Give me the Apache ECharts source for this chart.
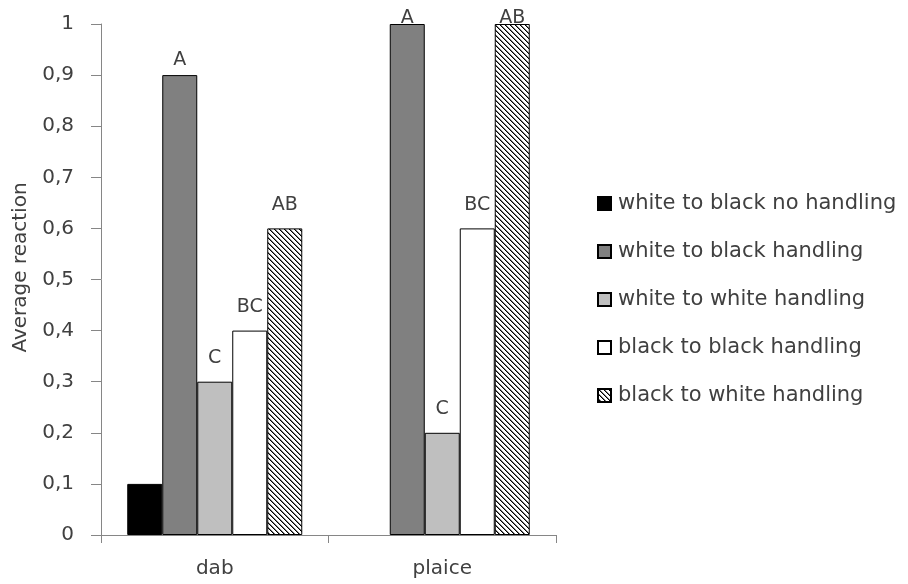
<!DOCTYPE html>
<html>
<head>
<meta charset="utf-8">
<script src="https://cdn.jsdelivr.net/npm/echarts@6/dist/echarts.min.js"></script>
<style>
  html, body { margin: 0; padding: 0; background: #fff; }
  #chart { width: 908px; height: 584px; }
</style>
</head>
<body>
<div id="chart"></div>
<script>
// ---- data ----
const categories = ['dab', 'plaice'];
const seriesNames = [
  'white to black no handling',
  'white to black handling',
  'white to white handling',
  'black to black handling',
  'black to white handling'
];
const whiteToBlackNoHandling = [0.1, null];
const whiteToBlackHandling   = [0.9, 1.0];
const whiteToWhiteHandling   = [0.3, 0.2];
const blackToBlackHandling   = [0.4, 0.6];
const blackToWhiteHandling   = [0.6, 1.0];

const lettersWtbNoHandling = ['', ''];
const lettersWtbHandling   = ['A', 'A'];
const lettersWtwHandling   = ['C', 'C'];
const lettersBtbHandling   = ['BC', 'BC'];
const lettersBtwHandling   = ['AB', 'AB'];

// ---- styling ----
function hatchPattern() {
  const s = 5;
  const c = document.createElement('canvas');
  c.width = s; c.height = s;
  const ctx = c.getContext('2d');
  ctx.fillStyle = '#ffffff';
  ctx.fillRect(0, 0, s, s);
  for (let y = 0; y < s; y++) {
    for (let x = 0; x < s; x++) {
      const d = ((x - y) % s + s) % s;
      if (d === 0) { ctx.fillStyle = '#000000'; ctx.fillRect(x, y, 1, 1); }
      else if (d === 1) { ctx.fillStyle = '#7a7a7a'; ctx.fillRect(x, y, 1, 1); }
    }
  }
  return c;
}

const fills = ['#000000', '#808080', '#bfbfbf', '#ffffff', { image: hatchPattern(), repeat: 'repeat' }];
const valueSets = [whiteToBlackNoHandling, whiteToBlackHandling, whiteToWhiteHandling, blackToBlackHandling, blackToWhiteHandling];
const letterSets = [lettersWtbNoHandling, lettersWtbHandling, lettersWtwHandling, lettersBtbHandling, lettersBtwHandling];

const FONT = 'DejaVu Sans';
const TEXT = '#404040';
const AXIS = '#868686';
const Y_MAX = 1;

function labelDistance(si, ci, v) {
  if (v >= Y_MAX) return -4;
  if (si === 1 && ci === 0) return 6;
  return 14;
}

const series = valueSets.map((vals, si) => ({
  name: seriesNames[si],
  type: 'bar',
  barWidth: 35,
  barGap: '0%',
  itemStyle: { color: fills[si], borderColor: '#000000', borderWidth: 1 },
  data: vals.map((v, ci) => ({
    value: v,
    label: {
      show: v != null && letterSets[si][ci] !== '',
      position: 'top',
      distance: labelDistance(si, ci, v),
      formatter: letterSets[si][ci],
      fontFamily: FONT,
      fontSize: 19,
      color: TEXT
    }
  }))
}));

const chart = echarts.init(document.getElementById('chart'), null, { renderer: 'canvas' });
chart.setOption({
  animation: false,
  backgroundColor: '#ffffff',
  grid: { left: 101, right: 352, top: 24, bottom: 49, containLabel: false },
  legend: {
    orient: 'vertical',
    left: 597,
    top: 193,
    padding: 0,
    itemWidth: 13,
    itemHeight: 13,
    itemGap: 27,
    icon: 'rect',
    data: seriesNames,
    textStyle: { fontFamily: FONT, fontSize: 21, lineHeight: 21, color: TEXT, padding: [0, 0, 0, 2] }
  },
  xAxis: {
    type: 'category',
    data: categories,
    axisLine: { lineStyle: { color: AXIS, width: 1 } },
    axisTick: { show: true, length: 8, interval: 0, lineStyle: { color: AXIS } },
    axisLabel: { fontFamily: FONT, fontSize: 20, color: TEXT, margin: 24 },
    splitLine: { show: false }
  },
  yAxis: {
    type: 'value',
    min: 0,
    max: Y_MAX,
    interval: 0.1,
    name: 'Average reaction',
    nameLocation: 'middle',
    nameGap: 69,
    nameTextStyle: { fontFamily: FONT, fontSize: 20, color: TEXT, padding: [0, 0, 0, 24] },
    axisLine: { show: true, lineStyle: { color: AXIS, width: 1 } },
    axisTick: { show: true, length: 10, lineStyle: { color: AXIS } },
    axisLabel: {
      fontFamily: FONT, fontSize: 20, color: TEXT, margin: 27,
      formatter: v => String(Number(v.toFixed(1))).replace('.', ',')
    },
    splitLine: { show: false }
  },
  series: series
});
</script>
</body>
</html>
